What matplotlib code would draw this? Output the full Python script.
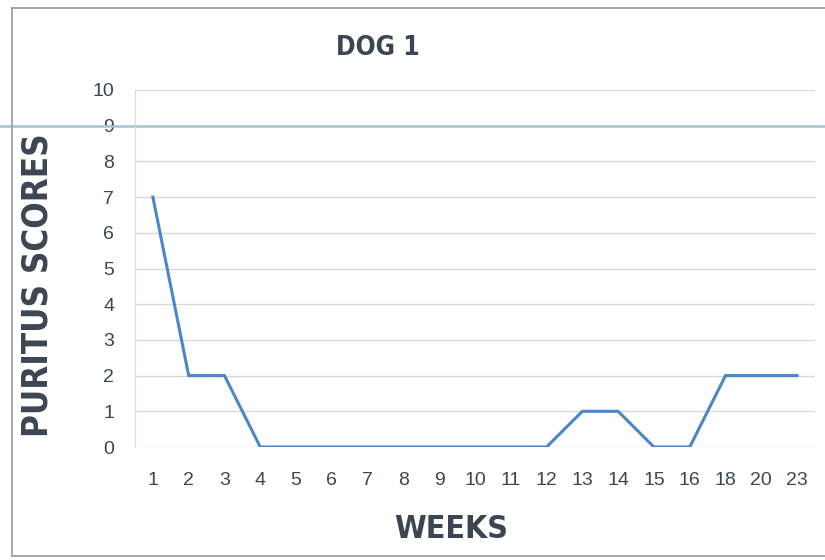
import matplotlib.pyplot as plt
from matplotlib.lines import Line2D

weeks = ['1', '2', '3', '4', '5', '6', '7', '8', '9', '10', '11', '12',
         '13', '14', '15', '16', '18', '20', '23']
scores = [7, 2, 2, 0, 0, 0, 0, 0, 0, 0, 0, 0, 1, 1, 0, 0, 2, 2, 2]
yticks = [0, 1, 2, 3, 4, 5, 6, 7, 8, 9, 10]

text_col = '#3c4652'
label_font = ['DejaVu Sans']

fig = plt.figure(figsize=(8.25, 5.6), dpi=100)
ax = fig.add_axes([135 / 825, 1 - 447 / 560, 680 / 825, 357 / 560])

x = range(len(weeks))
ax.plot(x, scores, color='#4a86c8', lw=2.2, solid_joinstyle='miter')

ax.set_xlim(-0.5, len(weeks) - 0.5)
ax.set_ylim(0, 10)
ax.set_xticks(list(x))
ax.set_xticklabels(weeks)
ax.set_yticks(yticks)
ax.tick_params(axis='both', length=0, labelsize=14, labelcolor=text_col)
ax.tick_params(axis='y', pad=15)
ax.tick_params(axis='x', pad=18)
for lab in ax.get_xticklabels() + ax.get_yticklabels():
    lab.set_family(['Liberation Sans', 'DejaVu Sans'])

ax.grid(axis='y', color='#d9d9d9', lw=1)
ax.set_axisbelow(True)
for s in ['top', 'right', 'bottom']:
    ax.spines[s].set_visible(False)
ax.spines['left'].set_color('#d9d9d9')

# scanner streak across the page at the 9 line
ax.axhline(9, xmin=-0.25, xmax=1.1, color='#a9c3cf', lw=1.8, clip_on=False)

fig.text(378 / 825, 1 - 48 / 560, 'DOG 1', ha='center', va='center',
         fontsize=19, fontweight='bold', fontstretch='condensed',
         color=text_col, family=label_font)
fig.text(451 / 825, 1 - 530 / 560, 'WEEKS', ha='center', va='center',
         fontsize=23, fontweight='bold', fontstretch='condensed',
         color=text_col, family=label_font)
fig.text(38 / 825, 1 - 285 / 560, 'PURITUS SCORES', ha='center', va='center',
         rotation=90, fontsize=25, fontweight='bold', fontstretch='condensed',
         color=text_col, family=label_font)

# chart border from the scan (top, left, bottom)
for xs, ys in [([12, 825], [8, 8]), ([12, 12], [8, 556]), ([12, 825], [556, 556])]:
    fig.add_artist(Line2D([v / 825 for v in xs], [1 - v / 560 for v in ys],
                          transform=fig.transFigure, color='#9a9a9a', lw=1.2))

fig.savefig('out.png', dpi=100)
